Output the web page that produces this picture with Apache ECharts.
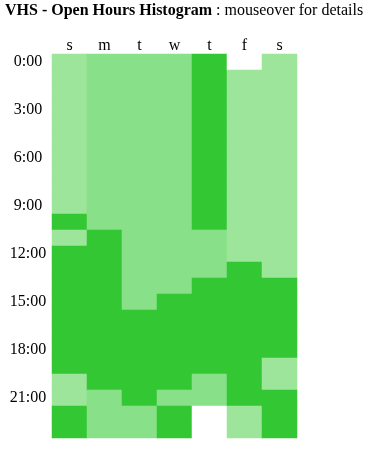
<!DOCTYPE html>
<html>
<head>
<meta charset="utf-8">
<script src="https://cdn.jsdelivr.net/npm/echarts@6/dist/echarts.min.js"></script>
<style>
html,body{margin:0;padding:0;background:#fff;}
#chart{width:370px;height:459px;}
</style>
</head>
<body>
<div id="chart"></div>
<script>
// Days (columns) and hours (rows)
var days = ['s', 'm', 't', 'w', 't', 'f', 's'];
var hours = [];
for (var h = 0; h < 24; h++) hours.push(h + ':00');

// Activity level per hour (0 = closed, 1 = low, 2 = medium, 3 = high)
var sun = [1,1,1,1,1,1,1,1,1,1,3,1,3,3,3,3,3,3,3,3,1,1,3,3];
var mon = [2,2,2,2,2,2,2,2,2,2,2,3,3,3,3,3,3,3,3,3,3,2,2,2];
var tue = [2,2,2,2,2,2,2,2,2,2,2,2,2,2,2,2,3,3,3,3,3,3,2,2];
var wed = [2,2,2,2,2,2,2,2,2,2,2,2,2,2,2,3,3,3,3,3,3,2,3,3];
var thu = [3,3,3,3,3,3,3,3,3,3,3,2,2,2,3,3,3,3,3,3,2,2,0,0];
var fri = [0,1,1,1,1,1,1,1,1,1,1,1,1,3,3,3,3,3,3,3,3,3,1,1];
var sat = [1,1,1,1,1,1,1,1,1,1,1,1,1,1,3,3,3,3,3,1,1,3,3,3];

var columns = [sun, mon, tue, wed, thu, fri, sat];
var data = [];
columns.forEach(function (col, x) {
  col.forEach(function (v, y) { data.push([x, y, v]); });
});

var FONT = '"Liberation Serif", "Times New Roman", serif';
var chart = echarts.init(document.getElementById('chart'));
chart.setOption({
  animation: false,
  backgroundColor: '#fff',
  title: {
    left: 5, top: 3, padding: 0,
    text: '{b|VHS - Open Hours Histogram}{n| : mouseover for details}',
    textStyle: {
      rich: {
        b: { fontFamily: FONT, fontSize: 16, fontWeight: 'bold', color: '#000' },
        n: { fontFamily: FONT, fontSize: 16, fontWeight: 'normal', color: '#000' }
      }
    }
  },
  tooltip: { show: true },
  grid: { left: 52, top: 54, width: 245, height: 384 },
  xAxis: {
    type: 'category', data: days, position: 'top',
    axisLine: { show: false }, axisTick: { show: false }, splitLine: { show: false },
    axisLabel: { fontFamily: FONT, fontSize: 16, color: '#000', margin: 0 }
  },
  yAxis: {
    type: 'category', data: hours, inverse: true,
    axisLine: { show: false }, axisTick: { show: false }, splitLine: { show: false },
    axisLabel: { fontFamily: FONT, fontSize: 16, color: '#000', interval: 2, align: 'center', margin: 24, padding: [2, 0, 0, 0] }
  },
  visualMap: {
    show: false, type: 'piecewise', dimension: 2,
    pieces: [
      { value: 0, color: '#ffffff' },
      { value: 1, color: '#9de59b' },
      { value: 2, color: '#88e088' },
      { value: 3, color: '#33c833' }
    ]
  },
  series: [{
    type: 'heatmap', data: data,
    itemStyle: { borderWidth: 0 },
    emphasis: { disabled: true }
  }]
});
</script>
</body>
</html>
